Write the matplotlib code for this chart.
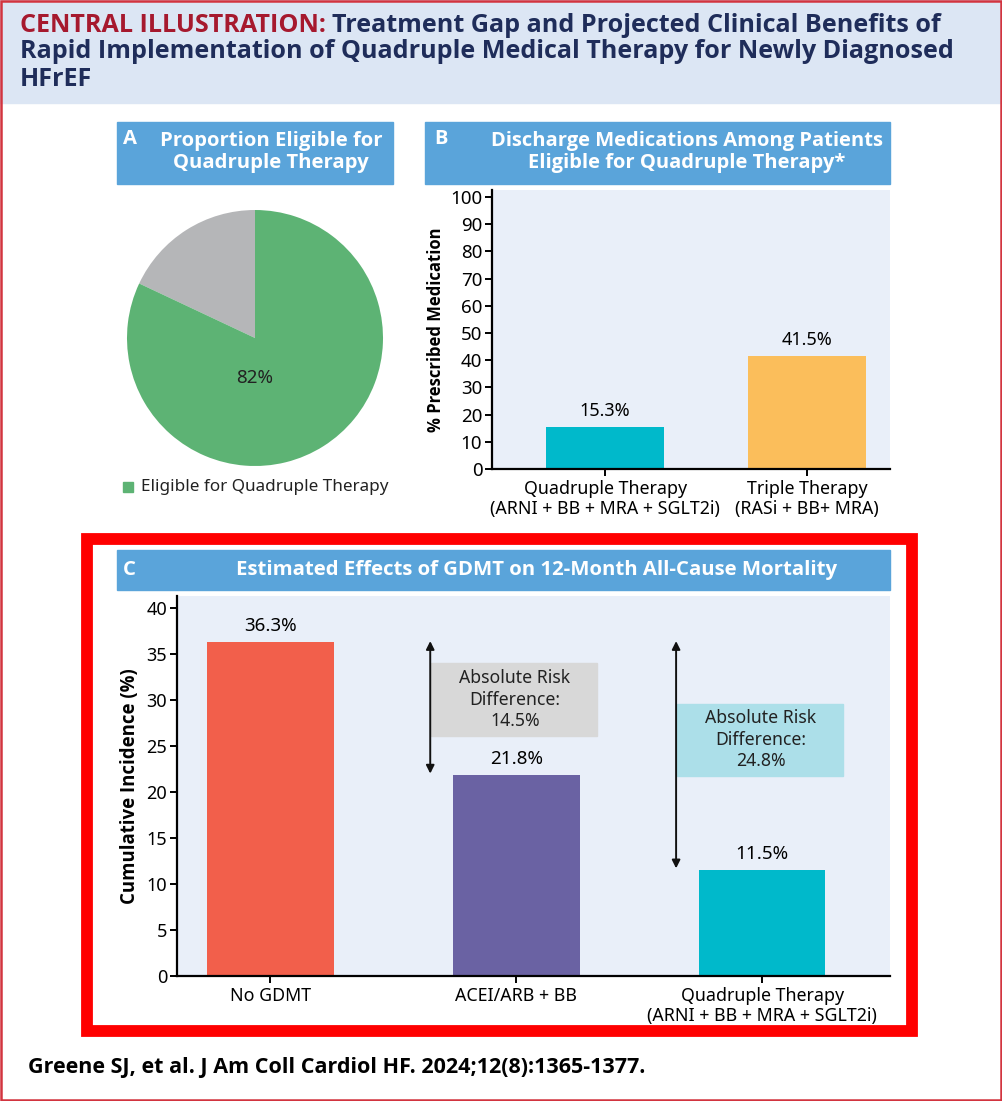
import matplotlib.pyplot as plt
from matplotlib.patches import Rectangle
from matplotlib import font_manager as fm


def pick_bold(cands):
    # first family that really has a bold face file
    for f in cands:
        try:
            p = fm.findfont(fm.FontProperties(family=f, weight='bold'), fallback_to_default=False)
            if 'bold' in p.lower():
                return f
        except Exception:
            pass
    return 'DejaVu Sans'


BF = pick_bold(['Noto Sans', 'Open Sans', 'Lato', 'Roboto', 'Liberation Sans'])
plt.rcParams['font.family'] = ['Noto Sans', 'DejaVu Sans']

# ---- data ----
elig_labels = ['Not eligible', 'Eligible for Quadruple Therapy']
elig_vals = [18, 82]

b_cats = ['Quadruple Therapy\n(ARNI + BB + MRA + SGLT2i)', 'Triple Therapy\n(RASi + BB+ MRA)']
b_vals = [15.3, 41.5]

c_cats = ['No GDMT', 'ACEI/ARB + BB', 'Quadruple Therapy\n(ARNI + BB + MRA + SGLT2i)']
c_vals = [36.3, 21.8, 11.5]
c_diffs = ['14.5%', '24.8%']

# colours
HEAD_BLUE = '#5aa4da'
PANEL_BG = '#e9eff9'
GREEN = '#5db374'
GREY = '#b5b6b8'
TEAL = '#00b9cb'
ORANGE = '#fbbe5b'
RED = '#f25f4b'
PURPLE = '#6a62a3'
NAVY = '#1f2d5a'

W, H = 1002, 1101
fig = plt.figure(figsize=(W / 100, H / 100), dpi=100)


def rect(x0, y0, x1, y1):
    return [x0 / W, 1 - y1 / H, (x1 - x0) / W, (y1 - y0) / H]


bold = dict(family=BF, fontweight='bold')

# background layer in pixel coords
bg = fig.add_axes([0, 0, 1, 1])
bg.set_xlim(0, W)
bg.set_ylim(H, 0)
bg.axis('off')

bg.add_patch(Rectangle((0, 0), W, 103, color='#dce6f4', zorder=0))
bg.add_patch(Rectangle((1, 1), W - 2, H - 2, fill=False, ec='#d2343f', lw=1.8, zorder=5))

title_lines = ['Treatment Gap and Projected Clinical Benefits of',
               'Rapid Implementation of Quadruple Medical Therapy for Newly Diagnosed',
               'HFrEF']
TS = 18.1
t = bg.text(20, 25, 'CENTRAL ILLUSTRATION: ', color='#a6192e', fontsize=TS, va='center', **bold)
fig.canvas.draw()
x_after = t.get_window_extent().x1 * W / fig.bbox.width
bg.text(x_after, 25, title_lines[0], color=NAVY, fontsize=TS, va='center', **bold)
bg.text(20, 52, title_lines[1], color=NAVY, fontsize=TS, va='center', **bold)
bg.text(20, 80, title_lines[2], color=NAVY, fontsize=TS, va='center', **bold)

# panel headers
bg.add_patch(Rectangle((117, 122), 276, 62, color=HEAD_BLUE))
bg.text(123, 139, 'A', color='white', fontsize=14.6, va='center', **bold)
bg.text(271, 152, 'Proportion Eligible for\nQuadruple Therapy', color='white', fontsize=14.6,
        va='center', ha='center', linespacing=1.15, **bold)

bg.add_patch(Rectangle((425, 122), 465, 62, color=HEAD_BLUE))
bg.text(434, 139, 'B', color='white', fontsize=14.5, va='center', **bold)
bg.text(687, 152, 'Discharge Medications Among Patients\nEligible for Quadruple Therapy*',
        color='white', fontsize=14.5, va='center', ha='center', linespacing=1.15, **bold)

# panel C frame
bg.add_patch(Rectangle((87, 539), 825, 492, fill=False, ec='#ff0000', lw=8.5, zorder=4))
bg.add_patch(Rectangle((117, 550), 773, 40, color=HEAD_BLUE))
bg.text(123, 570, 'C', color='white', fontsize=14.7, va='center', **bold)
bg.text(537, 570, 'Estimated Effects of GDMT on 12-Month All-Cause Mortality', color='white',
        fontsize=14.7, va='center', ha='center', **bold)

# legend for pie
bg.add_patch(Rectangle((123, 482), 10, 10, color=GREEN))
bg.text(141, 487, elig_labels[1], fontsize=12.3, va='center', color='#222222')

# footer
bg.text(28, 1068, 'Greene SJ, et al. J Am Coll Cardiol HF. 2024;12(8):1365-1377.', fontsize=15.5,
        va='center', color='black', **bold)

# ---- panel A: pie ----
axA = fig.add_axes(rect(127, 210, 383, 466))
axA.pie(elig_vals, colors=[GREY, GREEN], startangle=90, counterclock=True,
        wedgeprops=dict(linewidth=0))
axA.set_xlim(-1, 1)
axA.set_ylim(-1, 1)
axA.text(0, -0.31, f'{elig_vals[1]}%', ha='center', va='center', fontsize=13.5, color='#222222')

# ---- panel B ----
axB = fig.add_axes(rect(492, 190, 890, 469))
axB.set_facecolor(PANEL_BG)
xb = range(len(b_vals))
barsB = axB.bar(xb, b_vals, width=0.585, color=[TEAL, ORANGE])
axB.set_xlim(-0.56, 1.41)
axB.set_ylim(0, 102.6)
axB.set_yticks(range(0, 101, 10))
axB.set_xticks(list(xb))
axB.set_xticklabels(b_cats, fontsize=12.8, linespacing=1.15)
for s in ['top', 'right']:
    axB.spines[s].set_visible(False)
for s in ['left', 'bottom']:
    axB.spines[s].set_linewidth(1.6)
axB.tick_params(axis='y', labelsize=13.5, length=5, width=1.4, pad=2)
axB.tick_params(axis='x', length=5, width=1.4, pad=3)
axB.set_ylabel('% Prescribed Medication', fontsize=12, labelpad=4, **bold)
for b, v in zip(barsB, b_vals):
    axB.annotate(f'{v}%', (b.get_x() + b.get_width() / 2, v), xytext=(0, 5),
                 textcoords='offset points', ha='center', va='bottom', fontsize=13)

# ---- panel C ----
axC = fig.add_axes(rect(177, 596, 890, 976))
axC.set_facecolor(PANEL_BG)
xc = list(range(len(c_vals)))
barsC = axC.bar(xc, c_vals, width=0.515, color=[RED, PURPLE, TEAL])
axC.set_xlim(-0.38, 2.52)
axC.set_ylim(0, 41.3)
axC.set_yticks(range(0, 41, 5))
axC.set_xticks(xc)
axC.set_xticklabels(c_cats, fontsize=12.8, linespacing=1.15)
for s in ['top', 'right']:
    axC.spines[s].set_visible(False)
for s in ['left', 'bottom']:
    axC.spines[s].set_linewidth(1.6)
axC.tick_params(axis='y', labelsize=13, length=5, width=1.4, pad=2)
axC.tick_params(axis='x', length=5, width=1.4, pad=3)
axC.set_ylabel('Cumulative Incidence (%)', fontsize=13.4, labelpad=5, **bold)
for b, v in zip(barsC, c_vals):
    axC.annotate(f'{v}%', (b.get_x() + b.get_width() / 2, v), xytext=(0, 5),
                 textcoords='offset points', ha='center', va='bottom', fontsize=13.5)

# risk difference arrows and boxes
box_cols = ['#d8d8d8', '#acdfe9']
box_tops = [34.0, 29.6]
box_bots = [26.1, 21.7]
for i, (d, bc) in enumerate(zip(c_diffs, box_cols)):
    xa = xc[i + 1] - 0.35
    axC.annotate('', xy=(xa, c_vals[i + 1] + 0.2), xytext=(xa, c_vals[0] + 0.1),
                 arrowprops=dict(arrowstyle='<|-|>', color='#111111', lw=1.4,
                                 mutation_scale=12, shrinkA=0, shrinkB=0))
    axC.add_patch(Rectangle((xa + 0.005, box_bots[i]), 0.675, box_tops[i] - box_bots[i],
                            color=bc, zorder=1))
    axC.text(xa + 0.345, (box_tops[i] + box_bots[i]) / 2,
             f'Absolute Risk\nDifference:\n{d}', ha='center', va='center', fontsize=12.7,
             linespacing=1.25, color='#222222', zorder=2)

fig.savefig('out.png', dpi=100)
